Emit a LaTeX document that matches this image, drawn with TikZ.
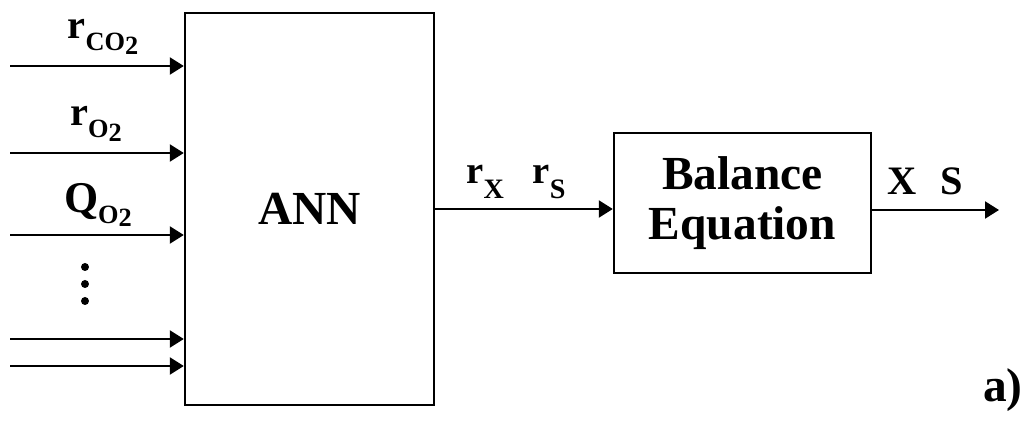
\documentclass[tikz,border=0pt]{standalone}
\usepackage{fontspec}
\setmainfont{Liberation Serif}
\usetikzlibrary{arrows.meta,positioning}

% lowered subscript in text font
\newcommand{\sbx}[3]{\raisebox{-#1}{\fontsize{#2}{#2}\selectfont #3}}

\begin{document}
\begin{tikzpicture}[
      x=0.02cm, y=-0.02cm,
      every node/.style={font=\fontsize{27}{30}\selectfont\bfseries},
      box/.style={draw, line width=1.4pt, inner sep=0pt, align=center},
      arr/.style={-{Triangle[length=0.28cm,width=0.34cm]}, line width=1.3pt},
      lbl/.style={inner sep=0pt}
  ]
    \useasboundingbox (0,0) rectangle (1022,422);

    \node[box, minimum width=4.98cm, minimum height=7.84cm] (ann) at (309.5,209) {ANN};
    \node[box, minimum width=5.14cm, minimum height=2.8cm,
          font=\fontsize{27}{28}\selectfont\bfseries] (bal) at (742.5,203) {Balance\\Equation};

    % inputs of the network
    \foreach \y/\n in {66/1,153/2,235/3,339/4,366/5} {
      \coordinate (in\n) at (10,\y);
      \draw[arr] (in\n) -- (in\n -| ann.west);
    }
    \foreach \y in {267,284,301}
      \fill (85,\y) circle (0.08cm);

    \node[lbl, font=\fontsize{23}{25}\selectfont\bfseries] (lco) at (103,37)
      {r\sbx{7pt}{15}{CO\sbx{2pt}{15}{2}}};
    \node[lbl, font=\fontsize{23}{25}\selectfont\bfseries] (lo) at (96,124)
      {r\sbx{7pt}{15}{O\sbx{2pt}{15}{2}}};
    \node[lbl, font=\fontsize{25}{27}\selectfont\bfseries] (lq) at (98,205)
      {Q\sbx{6pt}{15}{O\sbx{2pt}{15}{2}}};

    % rates and states
    \draw[arr] (ann.east |- 0,209) -- (bal.west |- 0,209);
    \node[lbl, font=\fontsize{22}{24}\selectfont\bfseries] (lr) at (516,182)
      {r\sbx{8pt}{16}{X}\hspace{0.75em}r\sbx{8pt}{16}{S}};
    \coordinate (out) at (999,210);
    \draw[arr] (bal.east |- out) -- (out);
    \node[lbl, font=\fontsize{23}{25}\selectfont\bfseries] (lxs) at (925,181) {X\hspace{0.6em}S};

    \node[lbl] (tag) at (1003,390) {a)};
  \end{tikzpicture}
\end{document}
